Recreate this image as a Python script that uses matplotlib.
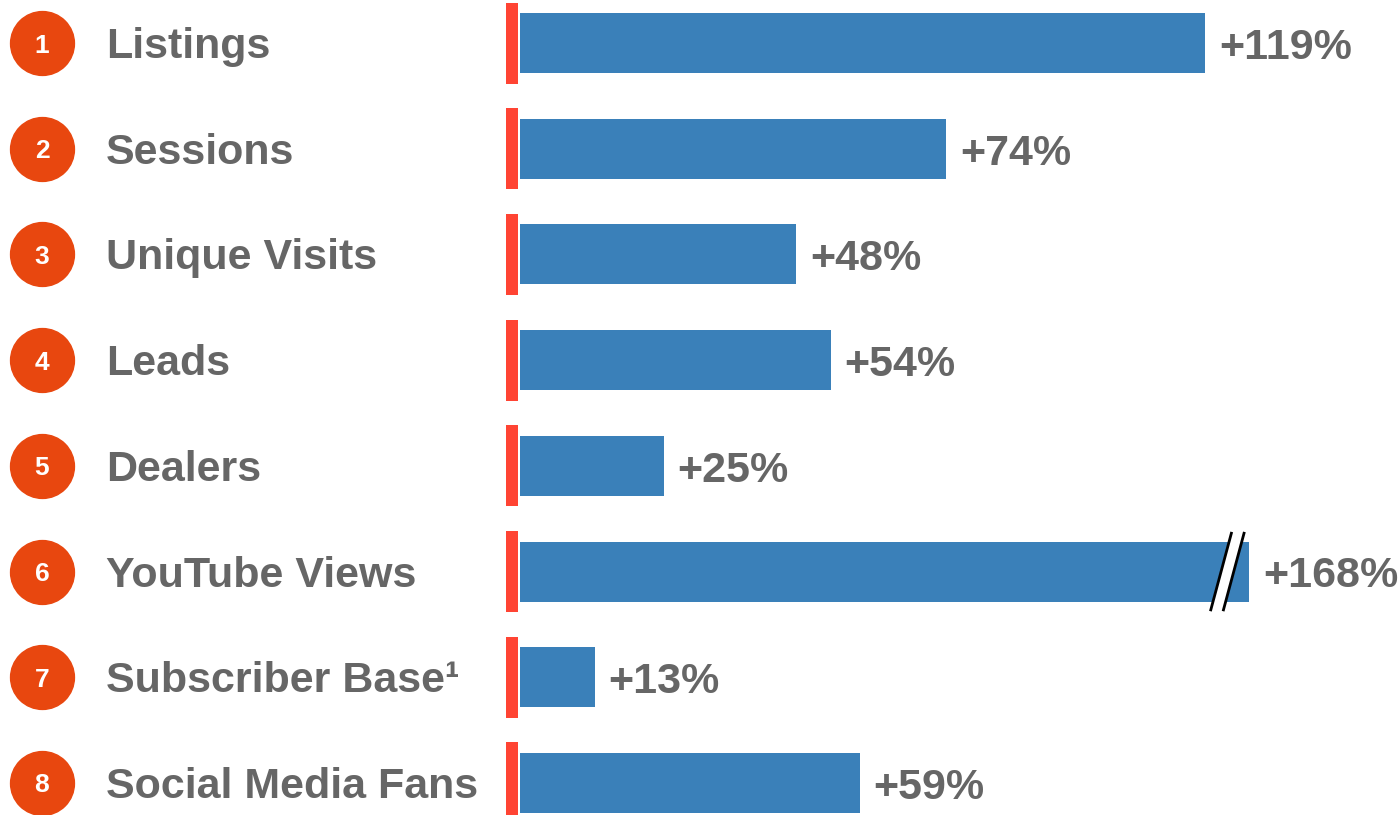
import matplotlib.pyplot as plt
from matplotlib import transforms

labels = ["Listings", "Sessions", "Unique Visits", "Leads", "Dealers",
          "YouTube Views", "Subscriber Base\u00b9", "Social Media Fans"]
growth = [119, 74, 48, 54, 25, 168, 13, 59]
# bars above this value are drawn cut off with a break mark
cap = 126.7

bar_color = "#3A80B9"
marker_red = "#FF4433"
circle_color = "#E8470F"
text_gray = "#666666"

plt.rcParams['font.family'] = ['Liberation Sans', 'DejaVu Sans']

fig = plt.figure(figsize=(13.98, 8.15), dpi=100)
ax = fig.add_axes([0, 0, 1, 1])
ax.axis('off')

# 0% sits at pixel 520, 5.756 px per percent
px_per_pct = 5.756
ax.set_xlim(-520 / px_per_pct, (1398 - 520) / px_per_pct)
ax.set_ylim(7.303, -0.407)

rows = list(range(len(labels)))
shown = [min(v, cap) for v in growth]

# red baseline segments and the bars
ax.barh(rows, [2.08] * len(rows), left=-2.43, height=0.766, color=marker_red)
ax.barh(rows, shown, height=0.568, color=bar_color)

# break mark on the clipped bar
for i, v in enumerate(growth):
    if v > cap:
        xc = cap - 4.9
        dx, dy = 1.85, 0.375
        gap = 2.2
        ax.fill([xc + dx, xc - dx, xc - dx + gap, xc + dx + gap],
                [i - dy, i + dy, i + dy, i - dy], color="white", zorder=3)
        for off in (0, gap):
            ax.plot([xc + dx + off, xc - dx + off], [i - dy, i + dy],
                    color="black", lw=2, zorder=4, solid_capstyle='butt')

# value labels
for i, (v, s) in enumerate(zip(growth, shown)):
    ax.text(s + 2.4, i + 0.15, f"+{v}%", ha='left', va='baseline',
            fontsize=31, fontweight='bold', color=text_gray)

# numbered circles and row names
trans = transforms.blended_transform_factory(fig.transFigure, ax.transData)
ax.scatter([0.030] * len(rows), rows, s=2116, color=circle_color,
           transform=trans, zorder=3, clip_on=False)
for i, name in enumerate(labels):
    ax.text(0.030, i + 0.09, str(i + 1), transform=trans, ha='center',
            va='baseline', fontsize=19, fontweight='bold', color="white",
            zorder=4)
    ax.text(0.0758, i + 0.142, name, transform=trans, ha='left',
            va='baseline', fontsize=31, fontweight='bold', color=text_gray)

fig.savefig("out.png", dpi=100)
